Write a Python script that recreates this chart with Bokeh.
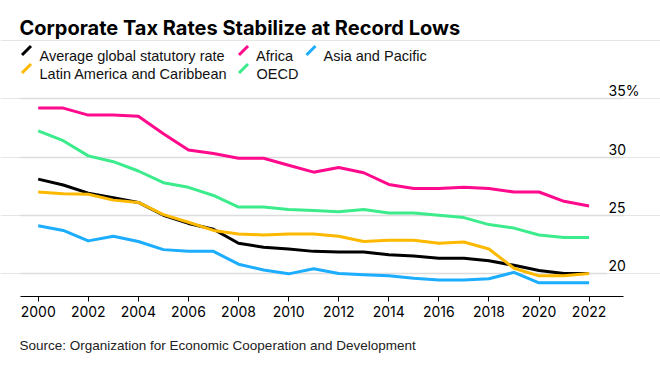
from bokeh.plotting import figure
from bokeh.models import Label, Arrow, Grid, FixedTicker, Range1d, Title
from bokeh.embed import file_html
from bokeh.resources import INLINE

years = [2000, 2001, 2002, 2003, 2004, 2005, 2006, 2007, 2008, 2009, 2010, 2011,
         2012, 2013, 2014, 2015, 2016, 2017, 2018, 2019, 2020, 2021, 2022]
avg_global = [28.1, 27.6, 26.9, 26.5, 26.1, 25.0, 24.3, 23.8, 22.6, 22.25, 22.1, 21.9,
              21.85, 21.85, 21.6, 21.5, 21.3, 21.3, 21.1, 20.7, 20.26, 20.0, 20.0]
africa = [34.2, 34.2, 33.6, 33.6, 33.5, 32.0, 30.6, 30.3, 29.9, 29.9, 29.3, 28.7,
          29.1, 28.65, 27.65, 27.3, 27.3, 27.4, 27.3, 27.0, 27.0, 26.2, 25.8]
asia_pacific = [24.1, 23.7, 22.8, 23.2, 22.75, 22.05, 21.9, 21.9, 20.8, 20.3, 19.97, 20.4,
                20.0, 19.9, 19.8, 19.6, 19.45, 19.45, 19.55, 20.1, 19.2, 19.2, 19.2]
latin_america = [27.0, 26.85, 26.8, 26.3, 26.1, 25.05, 24.4, 23.7, 23.4, 23.3, 23.4, 23.4,
                 23.2, 22.75, 22.85, 22.85, 22.6, 22.7, 22.1, 20.45, 19.8, 19.8, 20.0]
oecd = [32.25, 31.4, 30.1, 29.6, 28.8, 27.8, 27.4, 26.7, 25.7, 25.7, 25.5, 25.4,
        25.3, 25.5, 25.2, 25.2, 25.0, 24.8, 24.2, 23.9, 23.3, 23.1, 23.1]

series_names = ["Average global statutory rate", "Africa", "Asia and Pacific",
                "Latin America and Caribbean", "OECD"]
series_values = [avg_global, africa, asia_pacific, latin_america, oecd]
series_colors = ["#000000", "#ff0a8c", "#1cadff", "#fcb900", "#3cec8c"]

xtick_vals = [2000, 2002, 2004, 2006, 2008, 2010, 2012, 2014, 2016, 2018, 2020, 2022]
xtick_labels = ["2000", "2002", "2004", "2006", "2008", "2010", "2012", "2014",
                "2016", "2018", "2020", "2022"]
ytick_vals = [20, 25, 30, 35]
ytick_labels = ["20", "25", "30", "35%"]

title_text = "Corporate Tax Rates Stabilize at Record Lows"
source_text = "Source: Organization for Economic Cooperation and Development"

# layout: frame spans the full width and the top of the canvas
X0, X1 = 1998.494, 2024.852      # visible x range (page x 0 .. 660)
XB0, XB1 = 1999.293, 2023.375    # axis / grid extent (page x 20 .. 623)
XB1_LOW = 2022.696               # lowest grid line stops a little earlier (page x 606)
Y0, Y1 = 18.025, 43.44           # visible y range (page y 296 .. 0)

p = figure(width=660, height=370, x_range=Range1d(X0, X1), y_range=Range1d(Y0, Y1),
           output_backend="svg", toolbar_location=None, y_axis_location=None,
           min_border_left=0, min_border_right=0, min_border_top=0, min_border_bottom=74,
           title=None)
p.outline_line_color = None
p.background_fill_color = "white"
p.border_fill_color = "white"
p.xgrid.visible = False

has_cb = "cross_bounds" in Grid.properties()
for ticks, xend in ((ytick_vals[1:], XB1), (ytick_vals[:1], XB1_LOW)):
    kw = dict(dimension=1, ticker=FixedTicker(ticks=ticks),
              grid_line_color="#dcdcdc", grid_line_width=1.5)
    if has_cb:
        kw["cross_bounds"] = (XB0, xend)
    p.add_layout(Grid(**kw))

ax = p.xaxis[0]
ax.bounds = (XB0, XB1)
ax.ticker = FixedTicker(ticks=xtick_vals)
ax.major_label_overrides = {v: s for v, s in zip(xtick_vals, xtick_labels)}
ax.minor_tick_line_color = None
ax.major_tick_in = 0
ax.major_tick_out = 5
ax.axis_line_color = "#000000"
ax.major_tick_line_color = "#000000"
ax.major_label_text_font = "Inter"
ax.major_label_text_font_size = "14px"
ax.major_label_text_color = "#000000"
ax.major_label_standoff = 4

order = [0, 1, 4, 2, 3]
for i in order:
    p.line(years, series_values[i], line_color=series_colors[i], line_width=3,
           line_join="round")

for v, s in zip(ytick_vals, ytick_labels):
    p.add_layout(Label(x=XB1, y=v, x_offset=-15, y_offset=8, text=s, text_align="left",
                       text_baseline="alphabetic", text_font="Inter",
                       text_font_size="14px", text_color="#000000"))

# frame-relative screen coordinates (frame left = page x 0, frame bottom = page y 296)
FB = 296

def sy(py):
    return FB - py

p.add_layout(Label(x=19, y=sy(27.5), x_units="screen", y_units="screen",
                   text=title_text, text_font="Inter", text_font_style="bold",
                   text_font_size="20px", text_color="#000000", text_baseline="alphabetic"))

legend_pos = [  # (icon_x0, icon_x1, text_x, baseline)
    (21.5, 30.5, 39, 55),
    (238.5, 247.5, 255.5, 55),
    (306, 315, 323, 55),
    (21.5, 30.5, 39, 73),
    (238.5, 247.5, 256, 73),
]
for (ix0, ix1, tx, base), name, col in zip(legend_pos, series_names, series_colors):
    p.add_layout(Arrow(x_start=ix0, y_start=sy(base - 0.5), x_end=ix1, y_end=sy(base - 9.5),
                       start_units="screen", end_units="screen", end=None,
                       line_color=col, line_width=3))
    p.add_layout(Label(x=tx, y=sy(base), x_units="screen", y_units="screen",
                       text=name, text_font="Liberation Sans", text_font_size="14.5px",
                       text_color="#111111", text_baseline="alphabetic"))

p.add_layout(Title(text=source_text, align="left", offset=19, standoff=32,
                   text_font="Liberation Sans", text_font_size="13.5px",
                   text_font_style="normal", text_color="#222222"), "below")

open("out.html", "w").write(file_html(p, INLINE))
